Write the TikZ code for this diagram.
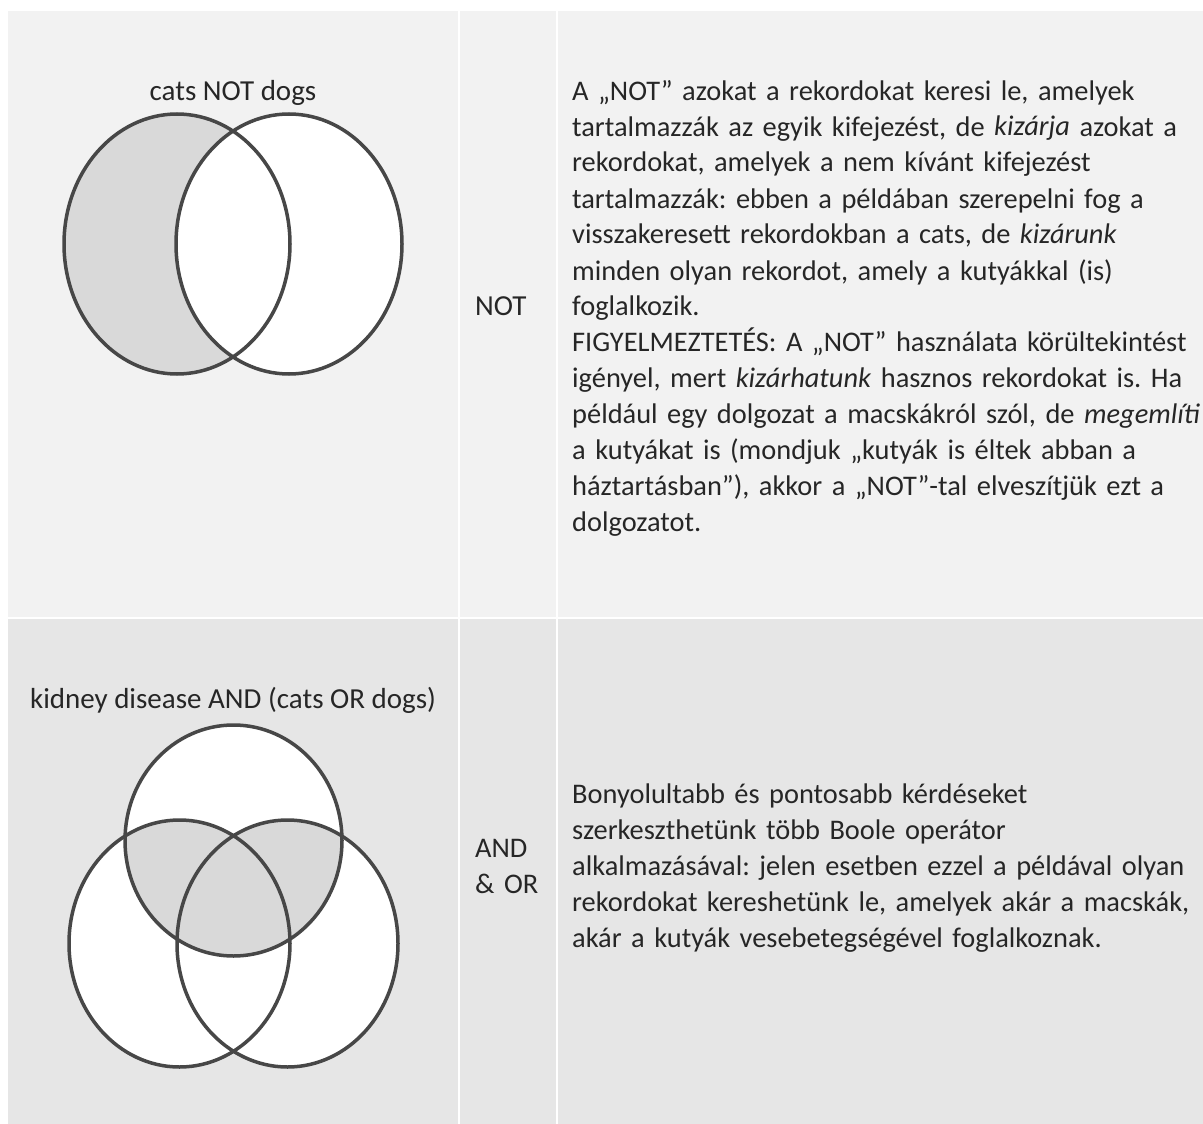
\documentclass[tikz,border=0pt]{standalone}
\usepackage{fontspec}
\setmainfont{Carlito}
\frenchspacing
\definecolor{rowa}{HTML}{F2F2F2}
\definecolor{rowb}{HTML}{E6E6E6}
\definecolor{ringline}{HTML}{474747}
\definecolor{venngray}{HTML}{D9D9D9}
\definecolor{ink}{HTML}{262626}
\begin{document}
\begin{tikzpicture}[x=1pt,y=-1pt,
  venn/.style={draw=ringline,line width=3.5pt},
  txt/.style={text=ink,font=\fontsize{29}{36}\selectfont,inner sep=0pt},
  para/.style={txt,font=\fontsize{28.4}{36}\selectfont,anchor=base west,align=left,text width=800pt}]
\useasboundingbox (0,0) rectangle (1203,1124);
\fill[white] (0,0) rectangle (1203,1124);
\fill[rowa] (8,11) rectangle (1203,618);
\fill[rowb] (8,618) rectangle (1203,1124);
\draw[white,line width=2pt] (459,11) -- (459,1124);
\draw[white,line width=2pt] (557,11) -- (557,1124);
\draw[white,line width=1.5pt] (8,618) -- (1203,618);
\coordinate (P) at (177,244);
\coordinate (Q) at (289,244);
\fill[venngray] (P) ellipse[x radius=113pt,y radius=130pt];
\fill[white] (Q) ellipse[x radius=113pt,y radius=130pt];
\draw[venn] (P) ellipse[x radius=113pt,y radius=130pt];
\draw[venn] (Q) ellipse[x radius=113pt,y radius=130pt];
\coordinate (K) at (233.5,840.5);
\coordinate (C) at (179.5,943.5);
\coordinate (D) at (287.5,943.5);
\fill[white] (K) ellipse[x radius=108.5pt,y radius=115.5pt];
\fill[white] (C) ellipse[x radius=110.5pt,y radius=123.5pt];
\fill[white] (D) ellipse[x radius=110.5pt,y radius=123.5pt];
\begin{scope}
\clip (K) ellipse[x radius=108.5pt,y radius=115.5pt];
\fill[venngray] (C) ellipse[x radius=110.5pt,y radius=123.5pt];
\fill[venngray] (D) ellipse[x radius=110.5pt,y radius=123.5pt];
\end{scope}
\draw[venn] (K) ellipse[x radius=108.5pt,y radius=115.5pt];
\draw[venn] (C) ellipse[x radius=110.5pt,y radius=123.5pt];
\draw[venn] (D) ellipse[x radius=110.5pt,y radius=123.5pt];
\node[txt,anchor=base] (nothead) at (233,100) {cats NOT dogs};
\node[txt,anchor=base west] (notop) at (475,315) {NOT};
\node[para] (nottext) at (572,100) {A „NOT” azokat a rekordokat keresi le, amelyek\\
tartalmazzák az egyik kifejezést, de \textit{kizárja} azokat a\\
rekordokat, amelyek a nem kívánt kifejezést\\
tartalmazzák: ebben a példában szerepelni fog a\\
visszakeresett rekordokban a cats, de \textit{kizárunk}\\
minden olyan rekordot, amely a kutyákkal (is)\\
foglalkozik.\\
FIGYELMEZTETÉS: A „NOT” használata körültekintést\\
igényel, mert \textit{kizárhatunk} hasznos rekordokat is. Ha\\
például egy dolgozat a macskákról szól, de \textit{megemlíti}\\
a kutyákat is (mondjuk „kutyák is éltek abban a\\
háztartásban”), akkor a „NOT”-tal elveszítjük ezt a\\
dolgozatot.};
\node[txt,anchor=base] (andhead) at (233,708) {kidney disease AND (cats OR dogs)};
\node[para,text width=80pt] (andop) at (475,857) {AND\\\& OR};
\node[para] (andtext) at (572,803) {Bonyolultabb és pontosabb kérdéseket\\
szerkeszthetünk több Boole operátor\\
alkalmazásával: jelen esetben ezzel a példával olyan\\
rekordokat kereshetünk le, amelyek akár a macskák,\\
akár a kutyák vesebetegségével foglalkoznak.};
\end{tikzpicture}
\end{document}
